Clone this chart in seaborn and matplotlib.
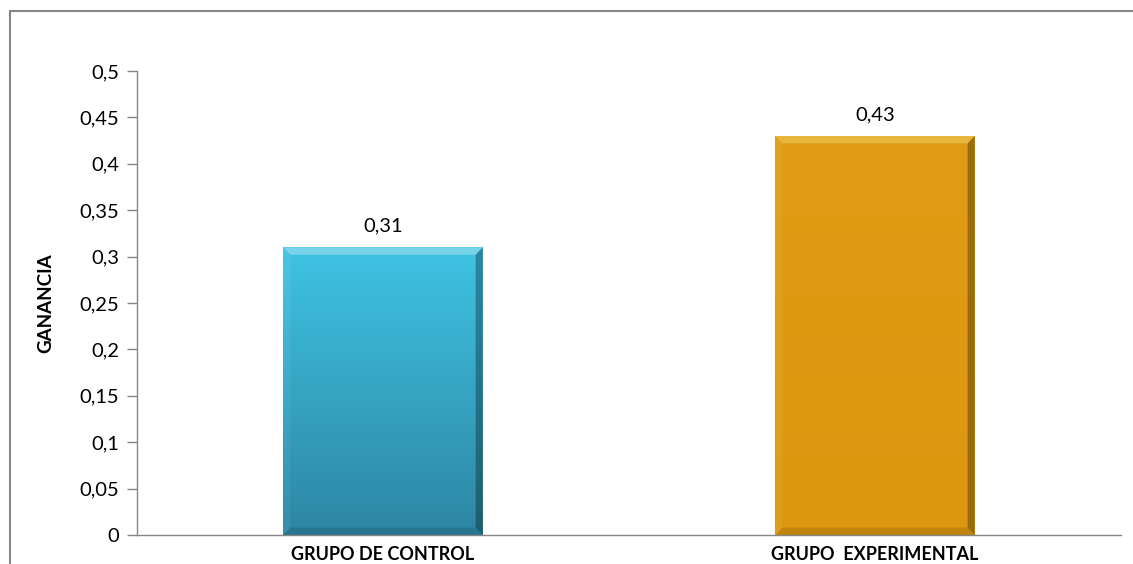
import numpy as np
import pandas as pd
import matplotlib
matplotlib.use("Agg")
import matplotlib.pyplot as plt
from matplotlib.ticker import FuncFormatter, MultipleLocator
from matplotlib.colors import LinearSegmentedColormap
from matplotlib.lines import Line2D
import seaborn as sns

categories = ["GRUPO DE CONTROL", "GRUPO  EXPERIMENTAL"]
values = [0.31, 0.43]
value_labels = ["0,31", "0,43"]
y_title = "GANANCIA"

sns.set_theme(style="white")
plt.rcParams['font.family'] = ['Lato', 'DejaVu Sans']

fig = plt.figure(figsize=(11.33, 5.64), dpi=100)
W, H = 1133, 564
ax = fig.add_axes([137 / W, 1 - 535 / H, (1121 - 137) / W, (535 - 71) / H])

df = pd.DataFrame({"cat": categories, "val": values})
colors = ["#35B4D6", "#DF9A12"]
sns.barplot(data=df, x="cat", y="val", hue="cat", palette=colors, legend=False,
            width=0.405, ax=ax, saturation=1, edgecolor="none")

ax.set_xlim(-0.5, 1.5)
ax.set_ylim(0, 0.5)

# gradient shading clipped to each bar
grads = [("#3FC3E3", "#2D86A3"), ("#E09C14", "#DC970F")]
highlights = ["#FFFFFF", "#FFF4A0"]
for p, (ctop, cbot), hl in zip(ax.patches, grads, highlights):
    x0, y0 = p.get_x(), p.get_y()
    w, h = p.get_width(), p.get_height()
    cmap = LinearSegmentedColormap.from_list("g", [cbot, ctop])
    grad = np.linspace(0, 1, 256).reshape(-1, 1)
    im = ax.imshow(grad, extent=[x0, x0 + w, y0, y0 + h], origin="lower",
                   cmap=cmap, aspect="auto", zorder=p.get_zorder() + 0.1)
    im.set_clip_path(p)
    # bevel edges
    bw = w * 0.035
    bh = 0.5 * 0.016
    ax.fill([x0, x0 + w, x0 + w - bw, x0 + bw], [y0 + h, y0 + h, y0 + h - bh, y0 + h - bh],
            color=hl, alpha=0.3, lw=0, zorder=p.get_zorder() + 0.2)
    ax.fill([x0 + w, x0 + w, x0 + w - bw, x0 + w - bw], [y0, y0 + h, y0 + h - bh, y0 + bh],
            color="black", alpha=0.3, lw=0, zorder=p.get_zorder() + 0.2)
    ax.fill([x0, x0, x0 + bw, x0 + bw], [y0, y0 + h, y0 + h - bh, y0 + bh],
            color="white", alpha=0.06, lw=0, zorder=p.get_zorder() + 0.2)
    ax.fill([x0, x0 + w, x0 + w - bw, x0 + bw], [y0, y0, y0 + bh, y0 + bh],
            color="black", alpha=0.12, lw=0, zorder=p.get_zorder() + 0.2)

for i, (v, lab) in enumerate(zip(values, value_labels)):
    ax.annotate(lab, (i, v), xytext=(0, 9), textcoords="offset points",
                ha="center", va="bottom", fontsize=14.5, color="#000000")

ax.yaxis.set_major_locator(MultipleLocator(0.05))
ax.yaxis.set_major_formatter(FuncFormatter(lambda v, _: ("%g" % round(v, 2)).replace(".", ",")))
ax.tick_params(axis="y", which="major", length=7, width=1, color="#868686",
               labelsize=14.5, left=True, pad=6, labelcolor="#000000")
ax.tick_params(axis="x", length=0, labelsize=13, pad=8, labelcolor="#000000")
for lab in ax.get_xticklabels():
    lab.set_fontweight("bold")

ax.set_xlabel("")
ax.set_ylabel(y_title, fontsize=13.5, fontweight="bold", color="#000000")
ax.yaxis.set_label_coords(-83 / (1121 - 137), 0.5)

for s in ["top", "right"]:
    ax.spines[s].set_visible(False)
for s in ["left", "bottom"]:
    ax.spines[s].set_color("#868686")
    ax.spines[s].set_linewidth(1)

# outer chart border (top and left visible)
fig.add_artist(Line2D([10 / W, 10 / W], [0, 1 - 11 / H], transform=fig.transFigure,
                      color="#868686", lw=1.5))
fig.add_artist(Line2D([10 / W, 1], [1 - 11 / H, 1 - 11 / H], transform=fig.transFigure,
                      color="#868686", lw=1.5))

fig.savefig("out.png", dpi=100, facecolor="white")
